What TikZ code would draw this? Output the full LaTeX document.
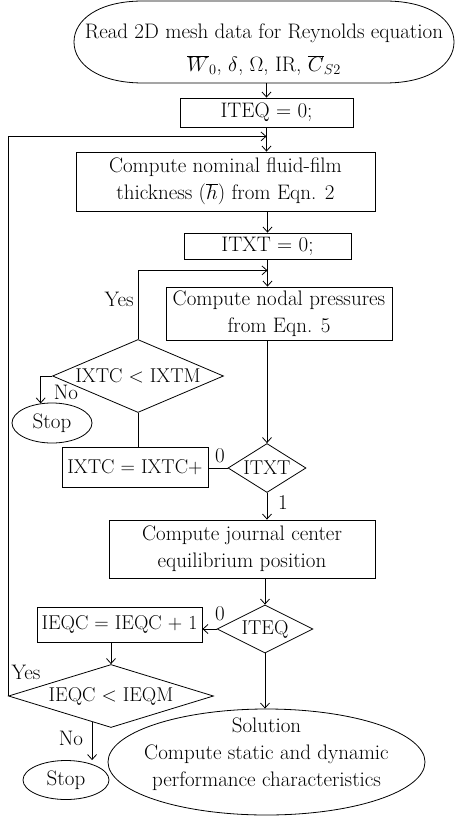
\documentclass[tikz,border=0pt]{standalone}
\usetikzlibrary{shapes.geometric,arrows.meta,calc}
\begin{document}
\begin{tikzpicture}[x=1pt,y=-1pt, line width=0.8pt,
  >={Straight Barb[length=5pt,width=9pt]},
  every node/.style={font=\fontsize{21}{27}\selectfont, inner sep=0pt},
  small/.style={font=\fontsize{20}{26}\selectfont},
  box/.style={draw, rectangle},
  dec/.style={draw, diamond, inner sep=-3pt, small},
  term/.style={draw, ellipse}]
\useasboundingbox (0,0) rectangle (455,818);

% start terminal
\node[minimum width=381pt, minimum height=82pt] (read) at (264,42) {};
\draw[shift={(read.center)}] (-121,-41) -- (121,-41) .. controls (166,-41) and (190,-22) .. (190,0) .. controls (190,22) and (166,41) .. (121,41) -- (-121,41) .. controls (-166,41) and (-190,22) .. (-190,0) .. controls (-190,-22) and (-166,-41) .. (-121,-41) -- cycle;
\node[align=center] (readtxt) at (264,50) {Read 2D mesh data for Reynolds equation\\[6pt] $\overline{W}_0$, $\delta$, $\Omega$, IR, $\overline{C}_{S2}$};

\node[box, minimum width=173pt, minimum height=29pt] (iteq0) at (266.5,112.5) {ITEQ = 0;};
\node[box, minimum width=299pt, minimum height=59pt, align=center] (nominal) at (225.5,181.5) {Compute nominal fluid-film\\ thickness ($\overline{h}$) from Eqn. 2};
\node[box, minimum width=167pt, minimum height=26pt] (itxt0) at (267.5,246) {ITXT = 0;};
\node[box, minimum width=226pt, minimum height=53pt, align=center] (nodal) at (279,313.5) {Compute nodal pressures\\ from Eqn. 5};
\node[dec, aspect=2.34, minimum width=171pt, minimum height=73pt] (dxtc) at (138,376) {IXTC < IXTM};
\node[term, minimum width=80pt, minimum height=40pt] (stop1) at (52,423) {Stop};
\node[box, small, minimum width=146pt, minimum height=40pt] (ixtc) at (135,467) {IXTC = IXTC+};
\node[dec, aspect=1.6, minimum width=78pt, minimum height=49pt] (ditxt) at (267,468) {ITXT};
\node[box, minimum width=266pt, minimum height=58pt, align=center] (journal) at (242,549) {Compute journal center\\ equilibrium position};
\node[dec, aspect=2, minimum width=96pt, minimum height=48pt] (diteq) at (265,629) {ITEQ};
\node[box, small, minimum width=165pt, minimum height=35pt] (ieqc) at (119.5,624.5) {IEQC = IEQC + 1};
\node[dec, aspect=3.25, minimum width=205pt, minimum height=63pt] (dieqc) at (111,696) {IEQC < IEQM};
\node[term, minimum width=86pt, minimum height=39pt] (stop2) at (66,780) {Stop};
\node[term, minimum width=317pt, minimum height=106pt] (solution) at (266.5,762) {};
\node[align=center] (soltxt) at (266.5,754) {Solution\\ Compute static and dynamic\\ performance characteristics};

% junctions
\coordinate (j1) at ($(iteq0.south)+(0,9)$);
\coordinate (j2) at ($(itxt0.south)+(0,11)$);
\coordinate (p) at ($(dieqc.west)!0.816!(dieqc.south)$);

% connectors
\draw[->] (read.south -| iteq0) -- (iteq0.north);
\draw[->] (iteq0.south) -- (iteq0.south |- nominal.north);
\draw[->] (dieqc.west) |- (j1);
\draw[->] (nominal.south -| itxt0) -- (itxt0.north);
\draw[->] (itxt0.south) -- (itxt0.south |- nodal.north);
\draw[->] (dxtc.north) |- (j2);
\draw[->] (nodal.south -| ditxt) -- (ditxt.north);
\draw[->] (dxtc.west) -| (stop1.120);
\draw (dxtc.south) -- (dxtc.south |- ixtc.north);
\draw (ditxt.west) -- (ditxt.west -| ixtc.east);
\draw[->] (ditxt.south) -- (ditxt.south |- journal.north);
\draw[->] (journal.south -| diteq) -- (diteq.north);
\draw[->] (diteq.west) -- (diteq.west -| ieqc.east);
\draw[->] (dieqc.north |- ieqc.south) -- (dieqc.north);
\draw[->] (p) -- (p |- stop2.north);
\draw[->] (diteq.south) -- (diteq.south |- solution.north);

% labels
\node[anchor=east] (yes1) at (134,299) {Yes};
\node (no1) at (66,392) {No};
\node (zero1) at (220,456) {0};
\node (one1) at (283,503) {1};
\node (zero2) at (220,614) {0};
\node (yes2) at (26,672) {Yes};
\node (no2) at (71,738) {No};
\end{tikzpicture}
\end{document}
